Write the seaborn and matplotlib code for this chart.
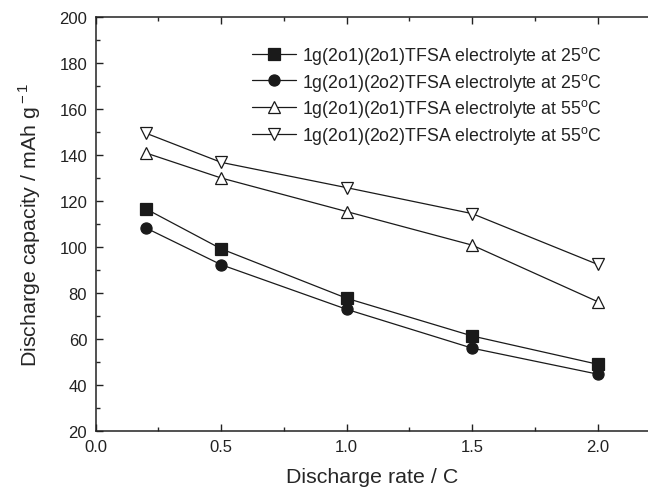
import numpy as np
import pandas as pd
import matplotlib
matplotlib.use("Agg")
import matplotlib.pyplot as plt
import seaborn as sns
from matplotlib.ticker import MultipleLocator, FormatStrFormatter

# ─── Données ────────────────────────────────────────────────────────────────
rates = [0.2, 0.5, 1.0, 1.5, 2.0]
cap_2o1_25 = [116.6, 99.2, 77.7, 61.3, 49.0]
cap_2o2_25 = [108.3, 92.3, 72.9, 56.0, 44.7]
cap_2o1_55 = [140.9, 130.0, 115.4, 100.8, 76.2]
cap_2o2_55 = [149.5, 136.8, 125.8, 114.5, 92.4]

labels = [
    "1g(2o1)(2o1)TFSA electrolyte at 25$^{\\rm o}$C",
    "1g(2o1)(2o2)TFSA electrolyte at 25$^{\\rm o}$C",
    "1g(2o1)(2o1)TFSA electrolyte at 55$^{\\rm o}$C",
    "1g(2o1)(2o2)TFSA electrolyte at 55$^{\\rm o}$C",
]
series = [cap_2o1_25, cap_2o2_25, cap_2o1_55, cap_2o2_55]

df = pd.concat(
    [pd.DataFrame({"rate": rates, "cap": s, "serie": lbl}) for s, lbl in zip(series, labels)],
    ignore_index=True,
)

# ─── Style ──────────────────────────────────────────────────────────────────
sns.set_style("ticks")
plt.rcParams.update({
    "font.family": ["Liberation Sans", "DejaVu Sans"],
    "mathtext.fontset": "custom",
    "mathtext.rm": "Liberation Sans",
    "text.color": "#222222",
    "xtick.direction": "in",
    "ytick.direction": "in",
})

styles = {
    labels[0]: dict(marker="s", mfc="#1a1a1a"),
    labels[1]: dict(marker="o", mfc="#1a1a1a"),
    labels[2]: dict(marker="^", mfc="white"),
    labels[3]: dict(marker="v", mfc="white"),
}

fig = plt.figure(figsize=(6.48, 4.89), dpi=100)
ax = fig.add_axes([0.1475, 0.1166, 0.8525, 0.8466])

for lbl in labels:
    st = styles[lbl]
    sns.lineplot(
        data=df[df["serie"] == lbl], x="rate", y="cap", ax=ax,
        color="#1a1a1a", lw=0.9, marker=st["marker"], markersize=8,
        markerfacecolor=st["mfc"], markeredgecolor="#1a1a1a",
        markeredgewidth=0.9, label=lbl,
    )

ax.set_xlim(0, 2.2)
ax.set_ylim(20, 200)
ax.xaxis.set_major_locator(MultipleLocator(0.5))
ax.xaxis.set_minor_locator(MultipleLocator(0.25))
ax.yaxis.set_major_locator(MultipleLocator(20))
ax.yaxis.set_minor_locator(MultipleLocator(10))
ax.xaxis.set_major_formatter(FormatStrFormatter("%.1f"))
ax.tick_params(which="major", length=5, width=1, labelsize=12, colors="#222222",
               top=True, pad=6)
ax.tick_params(which="minor", length=3, width=1, top=True)
ax.spines["right"].set_visible(False)
for sp in ["left", "bottom", "top"]:
    ax.spines[sp].set_linewidth(1.1)
    ax.spines[sp].set_color("#222222")

ax.set_xlabel("Discharge rate / C", fontsize=15.4, labelpad=9)
ax.set_ylabel("Discharge capacity / mAh g$^{\\rm -1}$", fontsize=15.4, labelpad=12)

ax.legend(loc="upper left", bbox_to_anchor=(0.283, 0.935), frameon=False,
          fontsize=12.8, handlelength=2.5, handletextpad=0.3, labelspacing=0.26,
          borderaxespad=0, borderpad=0)

fig.savefig("out.png", dpi=100)
